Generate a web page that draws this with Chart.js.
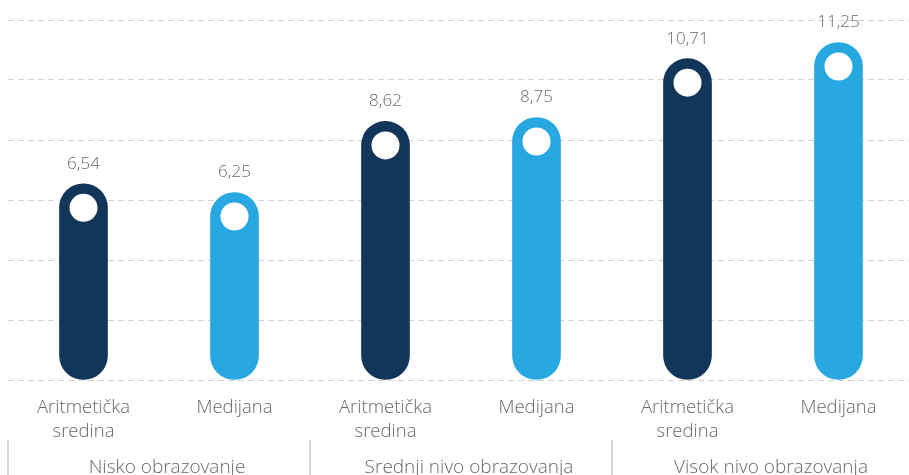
<!DOCTYPE html>
<html>
<head>
<meta charset="utf-8">
<script src="https://cdn.jsdelivr.net/npm/chart.js@4"></script>
<style>
  html, body { margin: 0; padding: 0; background: #fff; overflow: hidden; }
  #wrap { position: relative; width: 914px; height: 475px; }
</style>
</head>
<body>
<div id="wrap"><canvas id="graph"></canvas></div>
<script>
// categories, groups and values
var categories = [['Aritmetička', 'sredina'], 'Medijana', ['Aritmetička', 'sredina'], 'Medijana', ['Aritmetička', 'sredina'], 'Medijana'];
var groups = ['Nisko obrazovanje', 'Srednji nivo obrazovanja', 'Visok nivo obrazovanja'];
var values = [6.54, 6.25, 8.62, 8.75, 10.71, 11.25];
var barColors = ['#12355a', '#27a8e0', '#12355a', '#27a8e0', '#12355a', '#27a8e0'];
var yMin = 0, yMax = 12, yStep = 2;

var textColor = '#686868';
var fontFamily = '"Open Sans", Lato, sans-serif';

// white dot in the bar cap + value above each bar
var barDecor = {
    id: 'barDecor',
    afterDatasetsDraw: function (chart) {
        var ctx = chart.ctx;
        var meta = chart.getDatasetMeta(0);
        ctx.save();
        meta.data.forEach(function (bar, i) {
            var r = bar.width / 2;
            ctx.beginPath();
            ctx.arc(bar.x, bar.y + r, 14, 0, Math.PI * 2);
            ctx.fillStyle = '#fff';
            ctx.fill();

            ctx.fillStyle = textColor;
            ctx.font = '300 17px ' + fontFamily;
            ctx.textAlign = 'center';
            ctx.textBaseline = 'middle';
            ctx.fillText(values[i].toFixed(2).replace('.', ','), bar.x, bar.y - 20);
        });
        ctx.restore();
    }
};

new Chart(document.getElementById('graph'), {
    type: 'bar',
    data: {
        labels: categories,
        datasets: [{
            data: values,
            backgroundColor: barColors,
            barThickness: 48,
            borderRadius: 24,
            borderSkipped: false
        }]
    },
    options: {
        responsive: true,
        maintainAspectRatio: false,
        animation: false,
        layout: { padding: { top: 20, left: 8, right: 0, bottom: 0 } },
        plugins: {
            legend: { display: false },
            tooltip: { enabled: false }
        },
        scales: {
            y: {
                min: yMin,
                max: yMax,
                ticks: { display: false, stepSize: yStep },
                grid: { color: '#d2d2d2', lineWidth: 1, drawTicks: false },
                border: { display: false, dash: [6, 4] },
                afterFit: function (scale) { scale.width = 0; }
            },
            x: {
                grid: { display: false },
                border: { display: false },
                ticks: {
                    color: textColor,
                    padding: 8,
                    font: { family: fontFamily, size: 18.5, weight: 300, lineHeight: 1.27 }
                },
                afterFit: function (scale) { scale.height = 60; }
            },
            x2: {
                type: 'category',
                labels: groups,
                position: 'bottom',
                weight: 1,
                grid: {
                    offset: true,
                    drawOnChartArea: false,
                    drawTicks: true,
                    tickLength: 35,
                    color: '#d6d6d6',
                    lineWidth: 2
                },
                border: { display: false },
                ticks: {
                    color: textColor,
                    padding: -19,
                    labelOffset: 8,
                    font: { family: fontFamily, size: 19, weight: 300 }
                },
                afterFit: function (scale) { scale.height = 35; }
            }
        }
    },
    plugins: [barDecor]
});
</script>
</body>
</html>
